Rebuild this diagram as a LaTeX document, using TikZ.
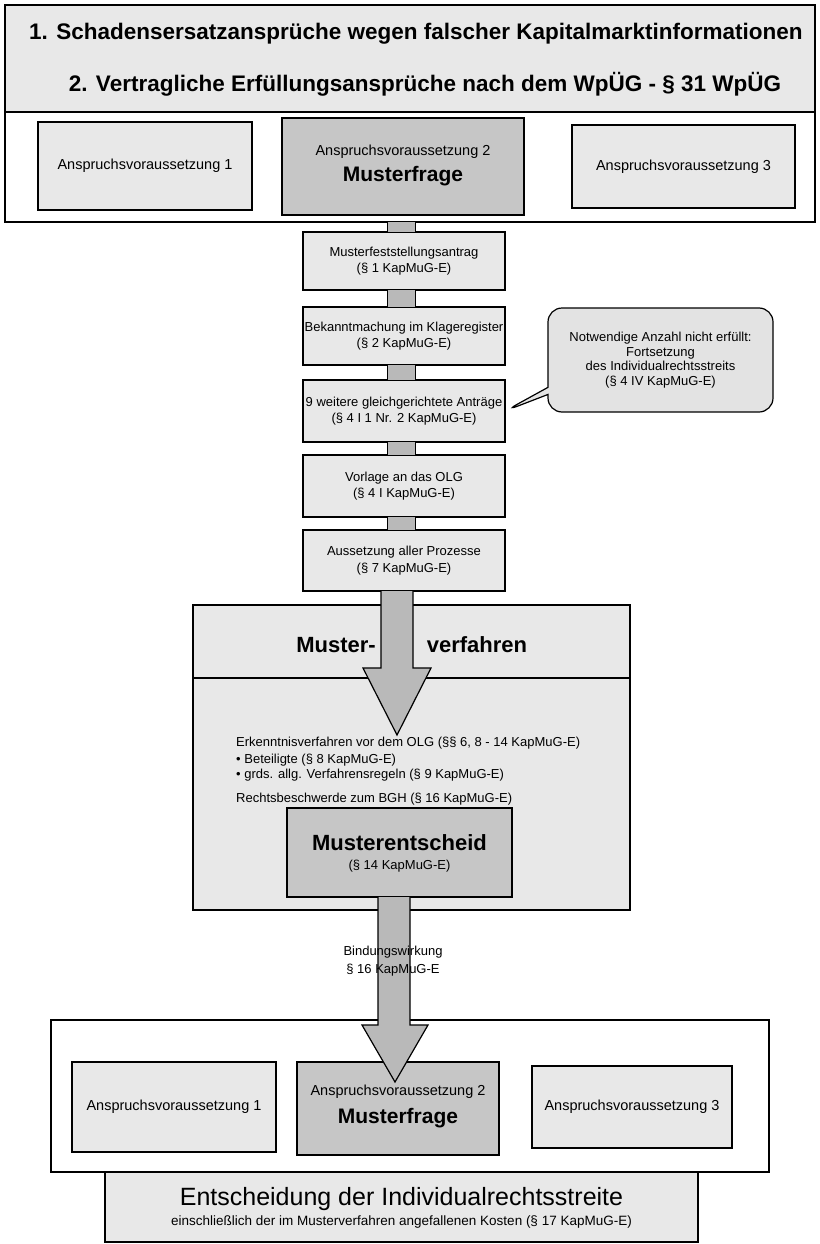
\documentclass[tikz,border=0pt]{standalone}
\usepackage{fontspec}
\setmainfont{Liberation Sans}
\usetikzlibrary{shapes.callouts,calc}
\newcommand{\fsz}[2]{\fontsize{#1}{#2}\selectfont}
\begin{document}
\begin{tikzpicture}[x=1pt,y=-1pt,
  frame/.style={draw, line width=1.2pt, inner sep=0pt, outer sep=0pt},
  lightbox/.style={frame, fill=gray!18},
  darkbox/.style={frame, fill=gray!45},
  stepbox/.style={frame, fill=gray!18, minimum width=202pt, align=center, font=\fsz{13}{16.5}},
  bar/.style={line width=1pt, double=gray!55, double distance=27pt},
  bigarrow/.style={draw, line width=1.2pt, fill=gray!55, line join=miter},
  txt/.style={inner sep=0pt, font=\fsz{13}{16}},
  avtxt/.style={inner sep=0pt, font=\fsz{14.5}{17}},
  bigbold/.style={inner sep=0pt, font=\fsz{21}{24}\bfseries},
]
\useasboundingbox (0,0) rectangle (819,1244);

% header
\node[lightbox, minimum width=810pt, minimum height=107pt] (hdr) at (410,58.5) {};
\node[inner sep=0pt, font=\fsz{22.5}{26}\bfseries] (hdrA) at (416,34) {1. Schadensersatzansprüche wegen falscher Kapitalmarktinformationen};
\node[inner sep=0pt, font=\fsz{22.5}{26}\bfseries] (hdrB) at (425,84) {2. Vertragliche Erfüllungsansprüche nach dem WpÜG - § 31 WpÜG};

% top frame with three conditions
\node[frame, fill=white, minimum width=810pt, minimum height=110pt] (topf) at (410,167) {};
\node[lightbox, minimum width=214pt, minimum height=88pt] (a1) at (145,166) {};
\node[avtxt] (a1t) at (a1) {Anspruchsvoraussetzung 1};
\node[darkbox, minimum width=242pt, minimum height=97pt] (a2) at (403,166.5) {};
\node[avtxt] (a2t) at (403,152) {Anspruchsvoraussetzung 2};
\node[bigbold] (a2m) at (403,176) {Musterfrage};
\node[lightbox, minimum width=223pt, minimum height=83pt] (a3) at (683.5,166.5) {};
\node[avtxt] (a3t) at (a3) {Anspruchsvoraussetzung 3};

% chain of steps
\node[stepbox, minimum height=58pt] (m1) at (404,261) {Musterfeststellungsantrag\\(§ 1 KapMuG-E)};
\node[stepbox, minimum height=58pt] (m2) at (404,336) {Bekanntmachung im Klageregister\\(§ 2 KapMuG-E)};
\node[stepbox, minimum height=62pt] (m3) at (404,411) {9 weitere gleichgerichtete Anträge\\(§ 4 I 1 Nr. 2 KapMuG-E)};
\node[stepbox, minimum height=62pt] (m4) at (404,486) {Vorlage an das OLG\\(§ 4 I KapMuG-E)};
\node[stepbox, minimum height=61pt] (m5) at (404,560.5) {Aussetzung aller Prozesse\\(§ 7 KapMuG-E)};

\draw[bar] ([xshift=-3pt]m1.north) -- ([xshift=-3pt]m1.north |- topf.south);
\draw[bar] ([xshift=-3pt]m1.south) -- ([xshift=-3pt]m2.north);
\draw[bar] ([xshift=-3pt]m2.south) -- ([xshift=-3pt]m3.north);
\draw[bar] ([xshift=-3pt]m3.south) -- ([xshift=-3pt]m4.north);
\draw[bar] ([xshift=-3pt]m4.south) -- ([xshift=-3pt]m5.north);

% callout
\node[rectangle callout, draw, line width=1.2pt, fill=gray!22, rounded corners=14pt,
      minimum width=225pt, minimum height=104pt, inner sep=0pt, align=center,
      font=\fsz{13}{14.5}, callout absolute pointer=(m3.east)] (co) at (660.5,360)
  {Notwendige Anzahl nicht erfüllt:\\Fortsetzung\\des Individualrechtsstreits\\(§ 4 IV KapMuG-E)};

% Musterverfahren
\node[lightbox, minimum width=437pt, minimum height=305pt] (mv) at (411.5,757.5) {};
\coordinate (dv) at (0,678);
\draw[line width=1.2pt] (mv.west |- dv) -- (mv.east |- dv);
\draw[bigarrow] (381,591) -- (381,668) -- (363,668) -- (397,735) -- (431,668) -- (413,668) -- (413,591);
\node[inner sep=0pt, font=\fsz{22}{25}\bfseries] (mvA) at (336,645) {Muster-};
\node[inner sep=0pt, font=\fsz{22}{25}\bfseries] (mvB) at (477,645) {verfahren};

\node[txt, anchor=west] (t1) at (236,743) {Erkenntnisverfahren vor dem OLG (§§ 6, 8 - 14 KapMuG-E)};
\node[txt, anchor=west] (t2) at (236,760) {• Beteiligte (§ 8 KapMuG-E)};
\node[txt, anchor=west] (t3) at (236,775) {• grds. allg. Verfahrensregeln (§ 9 KapMuG-E)};
\node[txt, anchor=west] (t4) at (236,799) {Rechtsbeschwerde zum BGH (§ 16 KapMuG-E)};

\node[darkbox, line width=1.5pt, minimum width=225pt, minimum height=89pt] (me) at (399.5,852.5) {};
\node[inner sep=0pt, font=\fsz{22}{25}\bfseries] (meA) at (399.5,843) {Musterentscheid};
\node[txt] (meB) at (399.5,866) {(§ 14 KapMuG-E)};

% bottom frame
\node[frame, fill=white, minimum width=718pt, minimum height=152pt] (bf) at (410,1096) {};
\node[lightbox, minimum width=204pt, minimum height=90pt] (b1) at (174,1107) {};
\node[avtxt] (b1t) at (b1) {Anspruchsvoraussetzung 1};
\node[darkbox, minimum width=202pt, minimum height=93pt] (b2) at (398,1108.5) {};
\node[avtxt] (b2t) at (398,1092) {Anspruchsvoraussetzung 2};
\node[bigbold] (b2m) at (398,1118) {Musterfrage};
\node[lightbox, minimum width=200pt, minimum height=82pt] (b3) at (632,1107) {};
\node[avtxt] (b3t) at (b3) {Anspruchsvoraussetzung 3};

% binding arrow
\draw[bigarrow] (378,897) -- (378,1025) -- (362,1025) -- (395,1082) -- (428,1025) -- (410,1025) -- (410,897);
\node[txt, align=center, font=\fsz{13}{18}] (bw) at (393,961) {Bindungswirkung\\§ 16 KapMuG-E};

% decision
\node[lightbox, minimum width=593pt, minimum height=70pt] (ent) at (401.5,1207) {};
\node[inner sep=0pt, font=\fsz{25}{28}] (entA) at (401.5,1199) {Entscheidung der Individualrechtsstreite};
\node[inner sep=0pt, font=\fsz{13.5}{16}] (entB) at (401.5,1222) {einschließlich der im Musterverfahren angefallenen Kosten (§ 17 KapMuG-E)};
\end{tikzpicture}
\end{document}
